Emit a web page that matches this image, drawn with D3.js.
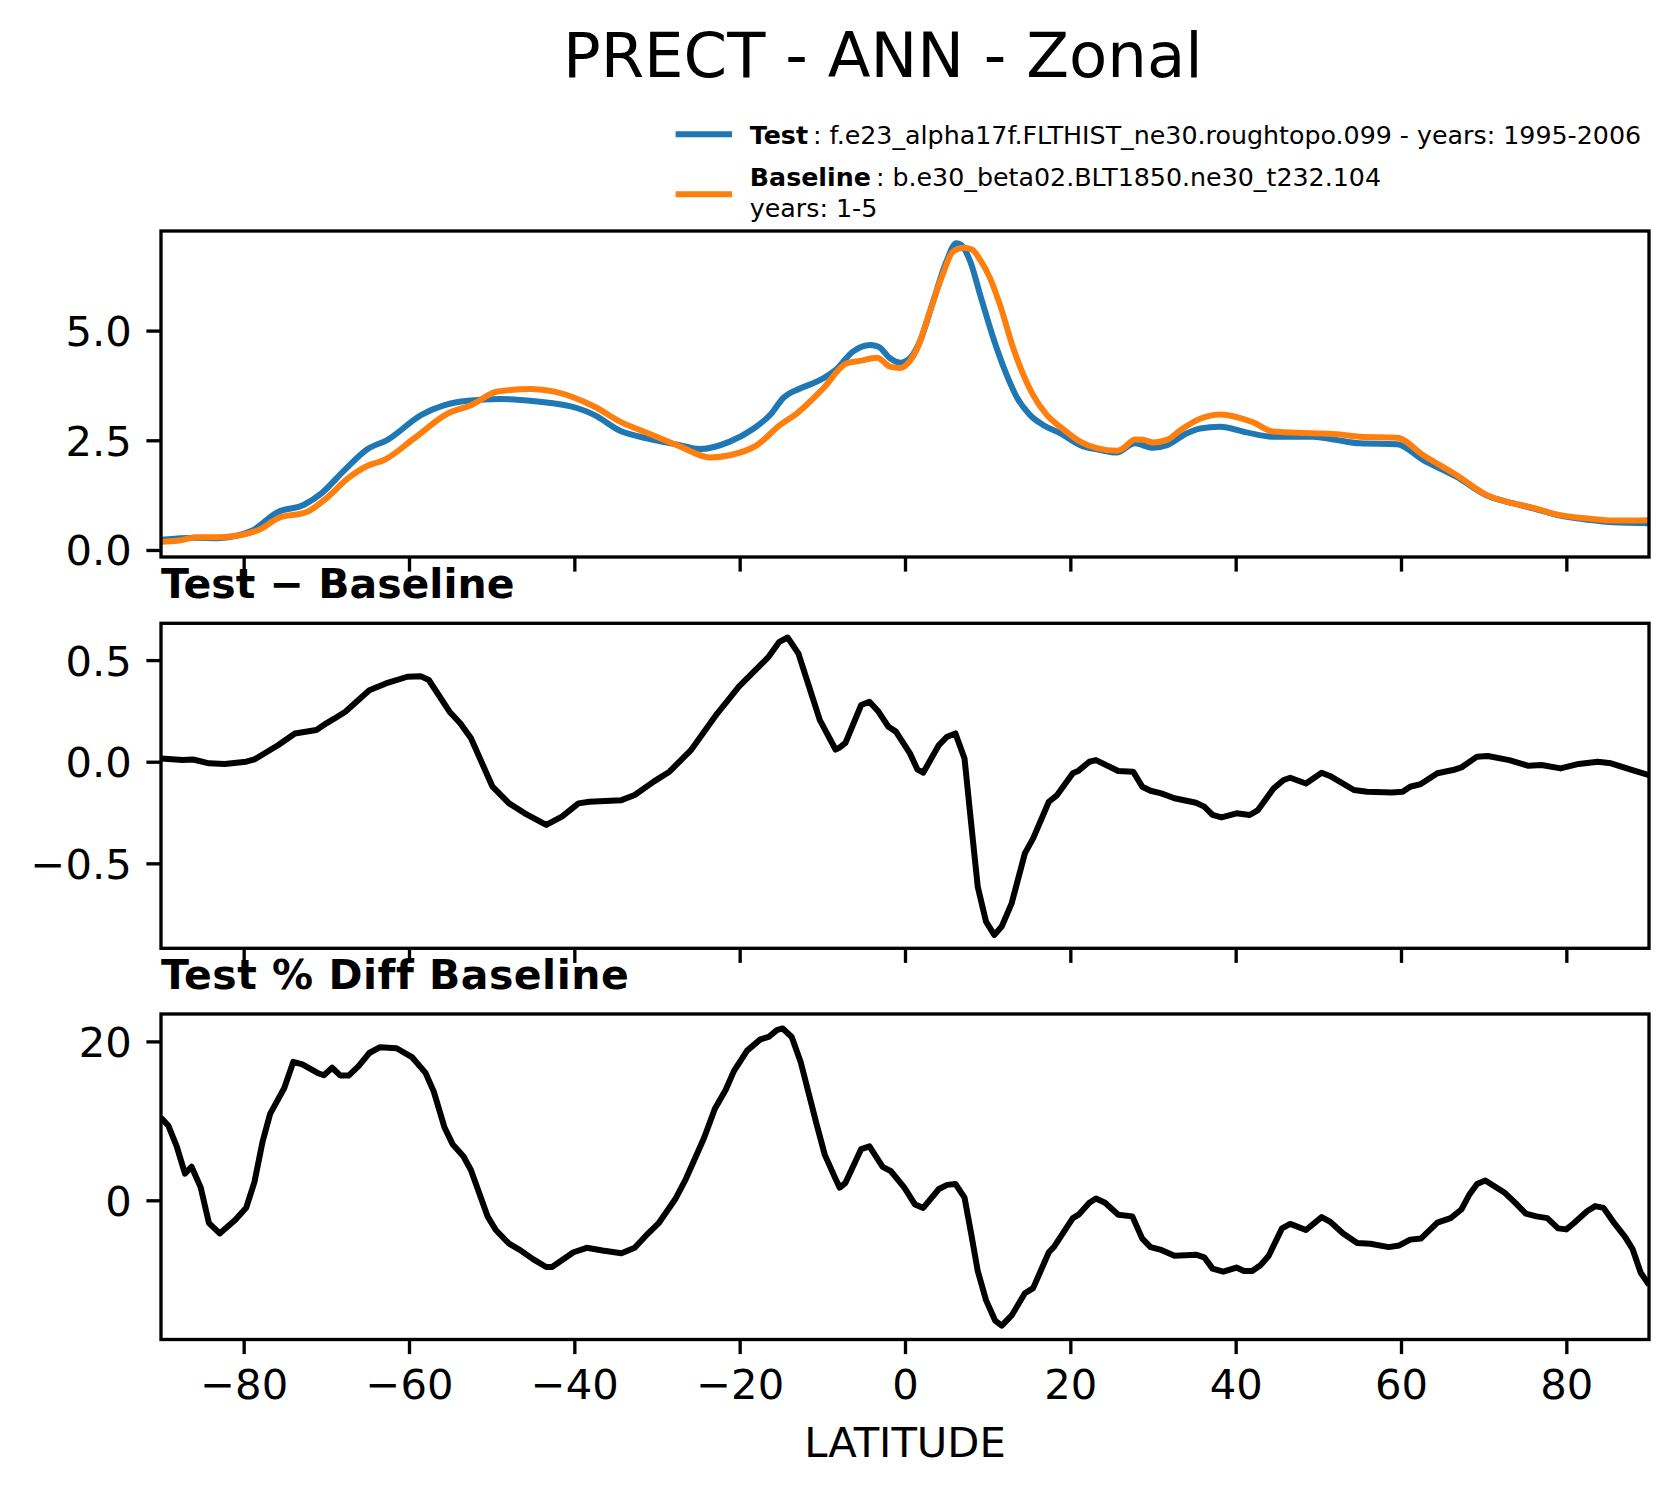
<!DOCTYPE html>
<html><head><meta charset="utf-8">
<script src="https://cdn.jsdelivr.net/npm/d3@7"></script>
<style>body{margin:0;background:#fff}svg{display:block}text{font-family:"DejaVu Sans",sans-serif}</style>
</head><body><svg id="c" width="1678" height="1496"></svg>
<script>
// ---------------- data ----------------
const xTicks = [-80,-60,-40,-20,0,20,40,60,80];
const yTicksTop = [0, 2.5, 5];
const yTicksDiff = [-0.5, 0, 0.5];
const yTicksPct = [0, 20];

const testLat = [-90,-86,-83.1,-79.1,-75.9,-72.7,-70.6,-67.8,-65,-62.6,-58.5,-55.7,-52.9,-48.9,-44.8,-39.6,-37.6,-34.4,-31.1,-27.5,-24.8,-21.2,-18.3,-16.3,-14.7,-12.7,-10.3,-8.3,-6.3,-4.2,-3.2,-1.8,-0.6,0.6,1.8,3.4,5.0,6.2,6.8,7.9,9.1,10.7,12.3,13.5,15.1,16.7,18.8,21.2,23.6,25.6,27.8,30.0,31.7,34.1,35.7,38.1,41.3,44.5,49.4,51.8,55.0,59.5,62.7,66.7,70.4,73.6,76.0,78.8,82.9,85.7,90];
const testVal = [0.23,0.28,0.27,0.43,0.86,1.03,1.29,1.82,2.30,2.51,3.08,3.30,3.40,3.44,3.39,3.23,3.08,2.71,2.54,2.40,2.30,2.47,2.77,3.08,3.47,3.68,3.87,4.12,4.52,4.67,4.63,4.37,4.27,4.37,4.75,5.66,6.57,6.99,6.95,6.57,5.81,4.82,3.99,3.49,3.08,2.85,2.66,2.39,2.28,2.22,2.43,2.33,2.39,2.66,2.77,2.81,2.68,2.58,2.58,2.52,2.43,2.41,2.05,1.67,1.24,1.06,0.95,0.80,0.68,0.63,0.61];

const baseLat = [-90,-88,-85.6,-83.1,-80.7,-77.9,-75.9,-72.3,-69.8,-67.4,-65,-63,-59.4,-55.3,-52.5,-49.3,-45.2,-42.4,-37.6,-34.4,-31.1,-27.1,-23.6,-21.2,-17.9,-15.1,-13.1,-9.9,-7.1,-5.4,-3.4,-1.8,-0.6,0.6,1.4,3.0,4.6,5.8,7.1,8.1,9.1,10.3,11.5,13.1,14.0,15.5,17.1,19.1,21.2,23.2,25.6,26.4,27.8,28.8,30.0,31.7,33.3,35.7,38.1,42.1,44.5,49.4,52.6,55.0,59.5,62.7,66.7,70.4,73.6,76.0,78.8,82.9,85.7,90];
const baseVal = [0.19,0.21,0.29,0.29,0.33,0.48,0.72,0.87,1.21,1.63,1.92,2.05,2.54,3.11,3.30,3.61,3.67,3.61,3.27,2.92,2.66,2.35,2.11,2.16,2.39,2.85,3.11,3.68,4.25,4.31,4.38,4.18,4.15,4.31,4.56,5.43,6.30,6.80,6.89,6.85,6.61,6.19,5.58,4.60,4.14,3.53,3.09,2.76,2.47,2.32,2.26,2.32,2.52,2.51,2.45,2.51,2.73,2.99,3.09,2.91,2.70,2.66,2.63,2.58,2.56,2.16,1.71,1.25,1.06,0.96,0.81,0.71,0.67,0.68];

const diffLat = [-90,-87.4,-86.1,-84.2,-82.3,-79.7,-78.7,-75.8,-73.8,-71.2,-70,-69,-67.7,-64.8,-62.8,-60.2,-58.6,-57.6,-55.1,-53.8,-52.5,-49.9,-47.9,-46,-43.4,-41.5,-39.5,-38.2,-34.3,-32.7,-30.4,-28.5,-25.9,-22.7,-21.4,-20.1,-18.1,-16.5,-15.2,-14.2,-12.9,-11.6,-10.3,-8.4,-7.9,-7.2,-5.3,-4.3,-3.3,-2.0,-1.1,0.6,1.5,2.2,4.1,5.1,6.1,7.2,8.0,8.8,9.8,10.8,11.7,12.9,14.5,15.5,17.4,18.4,20.3,21.0,22.3,23.1,25.8,27.6,28.7,29.7,31.0,32.6,35.2,36.2,37.2,38.3,40.1,41.7,42.7,44.6,45.8,46.6,48.5,50.4,51.4,54.3,55.9,58.9,60.2,61.1,62.4,64.4,66.3,67.3,69.2,70.5,73.1,75.4,77.0,79.3,81.5,83.8,85.4,88.0,90];
const diffVal = [0.016,0.008,0.011,-0.008,-0.011,0.0,0.011,0.082,0.139,0.156,0.189,0.213,0.246,0.352,0.385,0.418,0.421,0.402,0.246,0.189,0.115,-0.123,-0.205,-0.254,-0.311,-0.270,-0.205,-0.197,-0.189,-0.164,-0.098,-0.049,0.057,0.238,0.303,0.369,0.451,0.516,0.590,0.611,0.533,0.369,0.205,0.06,0.07,0.093,0.279,0.295,0.251,0.172,0.148,0.041,-0.038,-0.054,0.082,0.123,0.139,0.016,-0.303,-0.615,-0.787,-0.852,-0.811,-0.697,-0.451,-0.377,-0.197,-0.164,-0.057,-0.044,0,0.008,-0.046,-0.049,-0.123,-0.143,-0.156,-0.180,-0.202,-0.221,-0.262,-0.274,-0.254,-0.262,-0.238,-0.131,-0.090,-0.079,-0.107,-0.054,-0.070,-0.139,-0.148,-0.152,-0.148,-0.123,-0.110,-0.057,-0.041,-0.028,0.025,0.028,0.008,-0.020,-0.016,-0.033,-0.011,0,-0.008,-0.041,-0.066];

const pctLat = [-90,-89.1,-88.1,-87.1,-86.3,-85.2,-84.2,-82.9,-81.0,-79.7,-78.7,-77.7,-76.8,-75.1,-74.0,-72.9,-70.9,-70.3,-69.3,-68.3,-67.3,-66.1,-64.8,-63.5,-61.5,-59.6,-58.0,-57.0,-55.7,-54.7,-53.4,-52.5,-50.5,-49.5,-47.9,-46.6,-45.0,-43.4,-42.7,-40.1,-38.5,-36.6,-34.3,-32.7,-31.4,-29.8,-27.8,-26.5,-25.3,-24.3,-23.0,-21.7,-20.7,-19.1,-17.5,-16.5,-15.5,-14.8,-13.7,-12.6,-10.7,-9.7,-8.4,-7.9,-7.2,-5.3,-4.3,-2.7,-1.7,-0.1,1.2,2.2,4.1,5.1,6.1,7.2,8.0,8.8,9.8,10.9,11.7,12.9,14.5,15.5,17.4,18.0,20.3,21.0,22.3,23.1,24.2,25.8,27.5,28.7,29.7,31.0,32.6,35.2,36.2,37.2,38.5,40.1,41.0,42.0,43.0,44.0,45.6,46.6,48.5,50.4,51.4,53.0,54.7,56.3,58.5,59.8,61.1,62.4,64.4,66.0,67.3,68.3,69.2,70.2,72.5,73.8,75.1,76.4,77.7,79.0,80.0,80.9,82.5,83.5,84.5,85.8,87.1,88.0,89.0,90.0];
const pctVal = [10.37,9.38,6.80,3.35,4.22,1.63,-2.88,-4.17,-2.45,-0.95,2.28,7.44,10.88,14.11,17.42,17.12,15.96,15.74,16.69,15.70,15.70,16.90,18.54,19.27,19.14,17.98,16.04,13.68,9.16,7.01,5.51,3.78,-2.02,-3.74,-5.46,-6.24,-7.40,-8.39,-8.39,-6.54,-5.98,-6.32,-6.67,-5.98,-4.52,-2.88,0.13,2.71,5.51,7.87,11.53,13.89,16.26,18.84,20.26,20.56,21.42,21.63,20.56,17.33,9.59,5.72,2.7,1.6,2.2,6.45,6.80,4.22,3.66,1.63,-0.52,-0.95,1.42,1.94,2.06,0.34,-4.17,-8.90,-12.56,-15.14,-15.78,-14.49,-11.70,-11.05,-6.54,-5.89,-2.24,-1.81,-0.30,0.22,-0.30,-1.81,-2.02,-4.82,-5.89,-6.24,-6.97,-6.84,-7.18,-8.60,-8.99,-8.47,-8.90,-8.90,-8.17,-6.97,-3.53,-2.97,-3.74,-2.11,-2.67,-4.17,-5.38,-5.46,-5.89,-5.68,-4.95,-4.82,-2.80,-2.24,-1.16,0.77,2.06,2.49,0.99,-0.30,-1.68,-2.02,-2.24,-3.53,-3.66,-2.88,-1.38,-0.73,-0.95,-2.88,-4.60,-6.11,-9.12,-10.62];

const mainTitle = "PRECT - ANN - Zonal";
const legendTest = ["Test", "f.e23_alpha17f.FLTHIST_ne30.roughtopo.099 - years: 1995-2006"];
const legendBase = ["Baseline", "b.e30_beta02.BLT1850.ne30_t232.104", "years: 1-5"];
const xLabel = "LATITUDE";

// ---------------- drawing ----------------
const svg = d3.select('#c');
svg.append('rect').attr('width',1678).attr('height',1496).attr('fill','#fff');

const X0 = 161, X1 = 1649;
const x = d3.scaleLinear().domain([-90,90]).range([X0,X1]);
const TICK = 14.6, PAD = 14.6, SPINE = 3.33, FS = 41.7;
const BLUE = '#1f77b4', ORANGE = '#ff7f0e';

const panels = [
  {top:231, bottom:557, domain:[-0.16,7.27], ticks:yTicksTop, fmt:d3.format('.1f'), curve:d3.curveMonotoneX,
   series:[{lat:testLat,val:testVal,color:BLUE},{lat:baseLat,val:baseVal,color:ORANGE}], labels:false},
  {top:623.3, bottom:948.3, domain:[-0.918,0.681], ticks:yTicksDiff, fmt:d3.format('.1f'), curve:d3.curveLinear,
   series:[{lat:diffLat,val:diffVal,color:'#000'}], title:'Test \u2212 Baseline', spacing:0, labels:false},
  {top:1014, bottom:1339.5, domain:[-17.52,23.45], ticks:yTicksPct, fmt:d3.format('d'), curve:d3.curveLinear,
   series:[{lat:pctLat,val:pctVal,color:'#000'}], title:'Test % Diff Baseline', spacing:0.5, labels:true}
];

panels.forEach((p,i)=>{
  const y = d3.scaleLinear().domain(p.domain).range([p.bottom,p.top]);
  const g = svg.append('g');
  const cid = 'clip'+i;
  svg.append('clipPath').attr('id',cid).append('rect')
    .attr('x',X0).attr('y',p.top).attr('width',X1-X0).attr('height',p.bottom-p.top);
  const line = d3.line().x(d=>x(d[0])).y(d=>y(d[1])).curve(p.curve);
  p.series.forEach(s=>{
    g.append('path').attr('clip-path',`url(#${cid})`)
      .attr('d', line(s.lat.map((l,k)=>[l,s.val[k]])))
      .attr('fill','none').attr('stroke',s.color).attr('stroke-width',6)
      .attr('stroke-linejoin','round').attr('stroke-linecap','butt');
  });
  g.append('rect').attr('x',X0).attr('y',p.top).attr('width',X1-X0).attr('height',p.bottom-p.top)
    .attr('fill','none').attr('stroke','#000').attr('stroke-width',SPINE);
  const ya = g.append('g').attr('transform',`translate(${X0},0)`)
    .call(d3.axisLeft(y).tickValues(p.ticks).tickFormat(p.fmt).tickSize(TICK).tickPadding(PAD));
  ya.select('.domain').remove();
  ya.selectAll('line').attr('stroke','#000').attr('stroke-width',SPINE);
  ya.selectAll('text').attr('font-size',FS).attr('fill','#000').attr('dy','0.36em')
    .attr('font-family','DejaVu Sans');
  const xa = g.append('g').attr('transform',`translate(0,${p.bottom})`)
    .call(d3.axisBottom(x).tickValues(xTicks).tickFormat(p.labels? d3.format('d') : ()=>'').tickSize(TICK).tickPadding(PAD));
  xa.select('.domain').remove();
  xa.selectAll('line').attr('stroke','#000').attr('stroke-width',SPINE);
  xa.selectAll('text').attr('font-size',FS).attr('fill','#000').attr('dy','0.73em')
    .attr('font-family','DejaVu Sans');
  if (p.title) {
    g.append('text').attr('x',X0).attr('y',p.top-25.5).attr('font-size',41)
      .attr('font-weight','bold').attr('letter-spacing', p.spacing)
      .attr('fill','#000').text(p.title);
  }
});

svg.append('text').attr('x',(X0+X1)/2).attr('y',1457).attr('text-anchor','middle')
  .attr('font-size',FS).attr('fill','#000').text(xLabel);

svg.append('text').attr('x',563).attr('y',77.3).attr('font-size',62.5).attr('fill','#000').text(mainTitle);

const LFS = 25.3;
svg.append('line').attr('x1',675.6).attr('x2',732).attr('y1',134.3).attr('y2',134.3)
  .attr('stroke',BLUE).attr('stroke-width',6);
svg.append('line').attr('x1',675.6).attr('x2',732).attr('y1',194.3).attr('y2',194.3)
  .attr('stroke',ORANGE).attr('stroke-width',6);
const t1 = svg.append('text').attr('x',749.8).attr('y',144.3).attr('font-size',LFS).attr('fill','#000');
t1.append('tspan').attr('font-weight','bold').text(legendTest[0]);
t1.append('tspan').attr('dx',5).text(': ' + legendTest[1]);
const t2 = svg.append('text').attr('x',749.8).attr('y',186).attr('font-size',LFS).attr('fill','#000');
t2.append('tspan').attr('font-weight','bold').text(legendBase[0]);
t2.append('tspan').attr('dx',5).text(': ' + legendBase[1]);
svg.append('text').attr('x',749.8).attr('y',216.7).attr('font-size',LFS).attr('fill','#000').text(legendBase[2]);
</script></body></html>
